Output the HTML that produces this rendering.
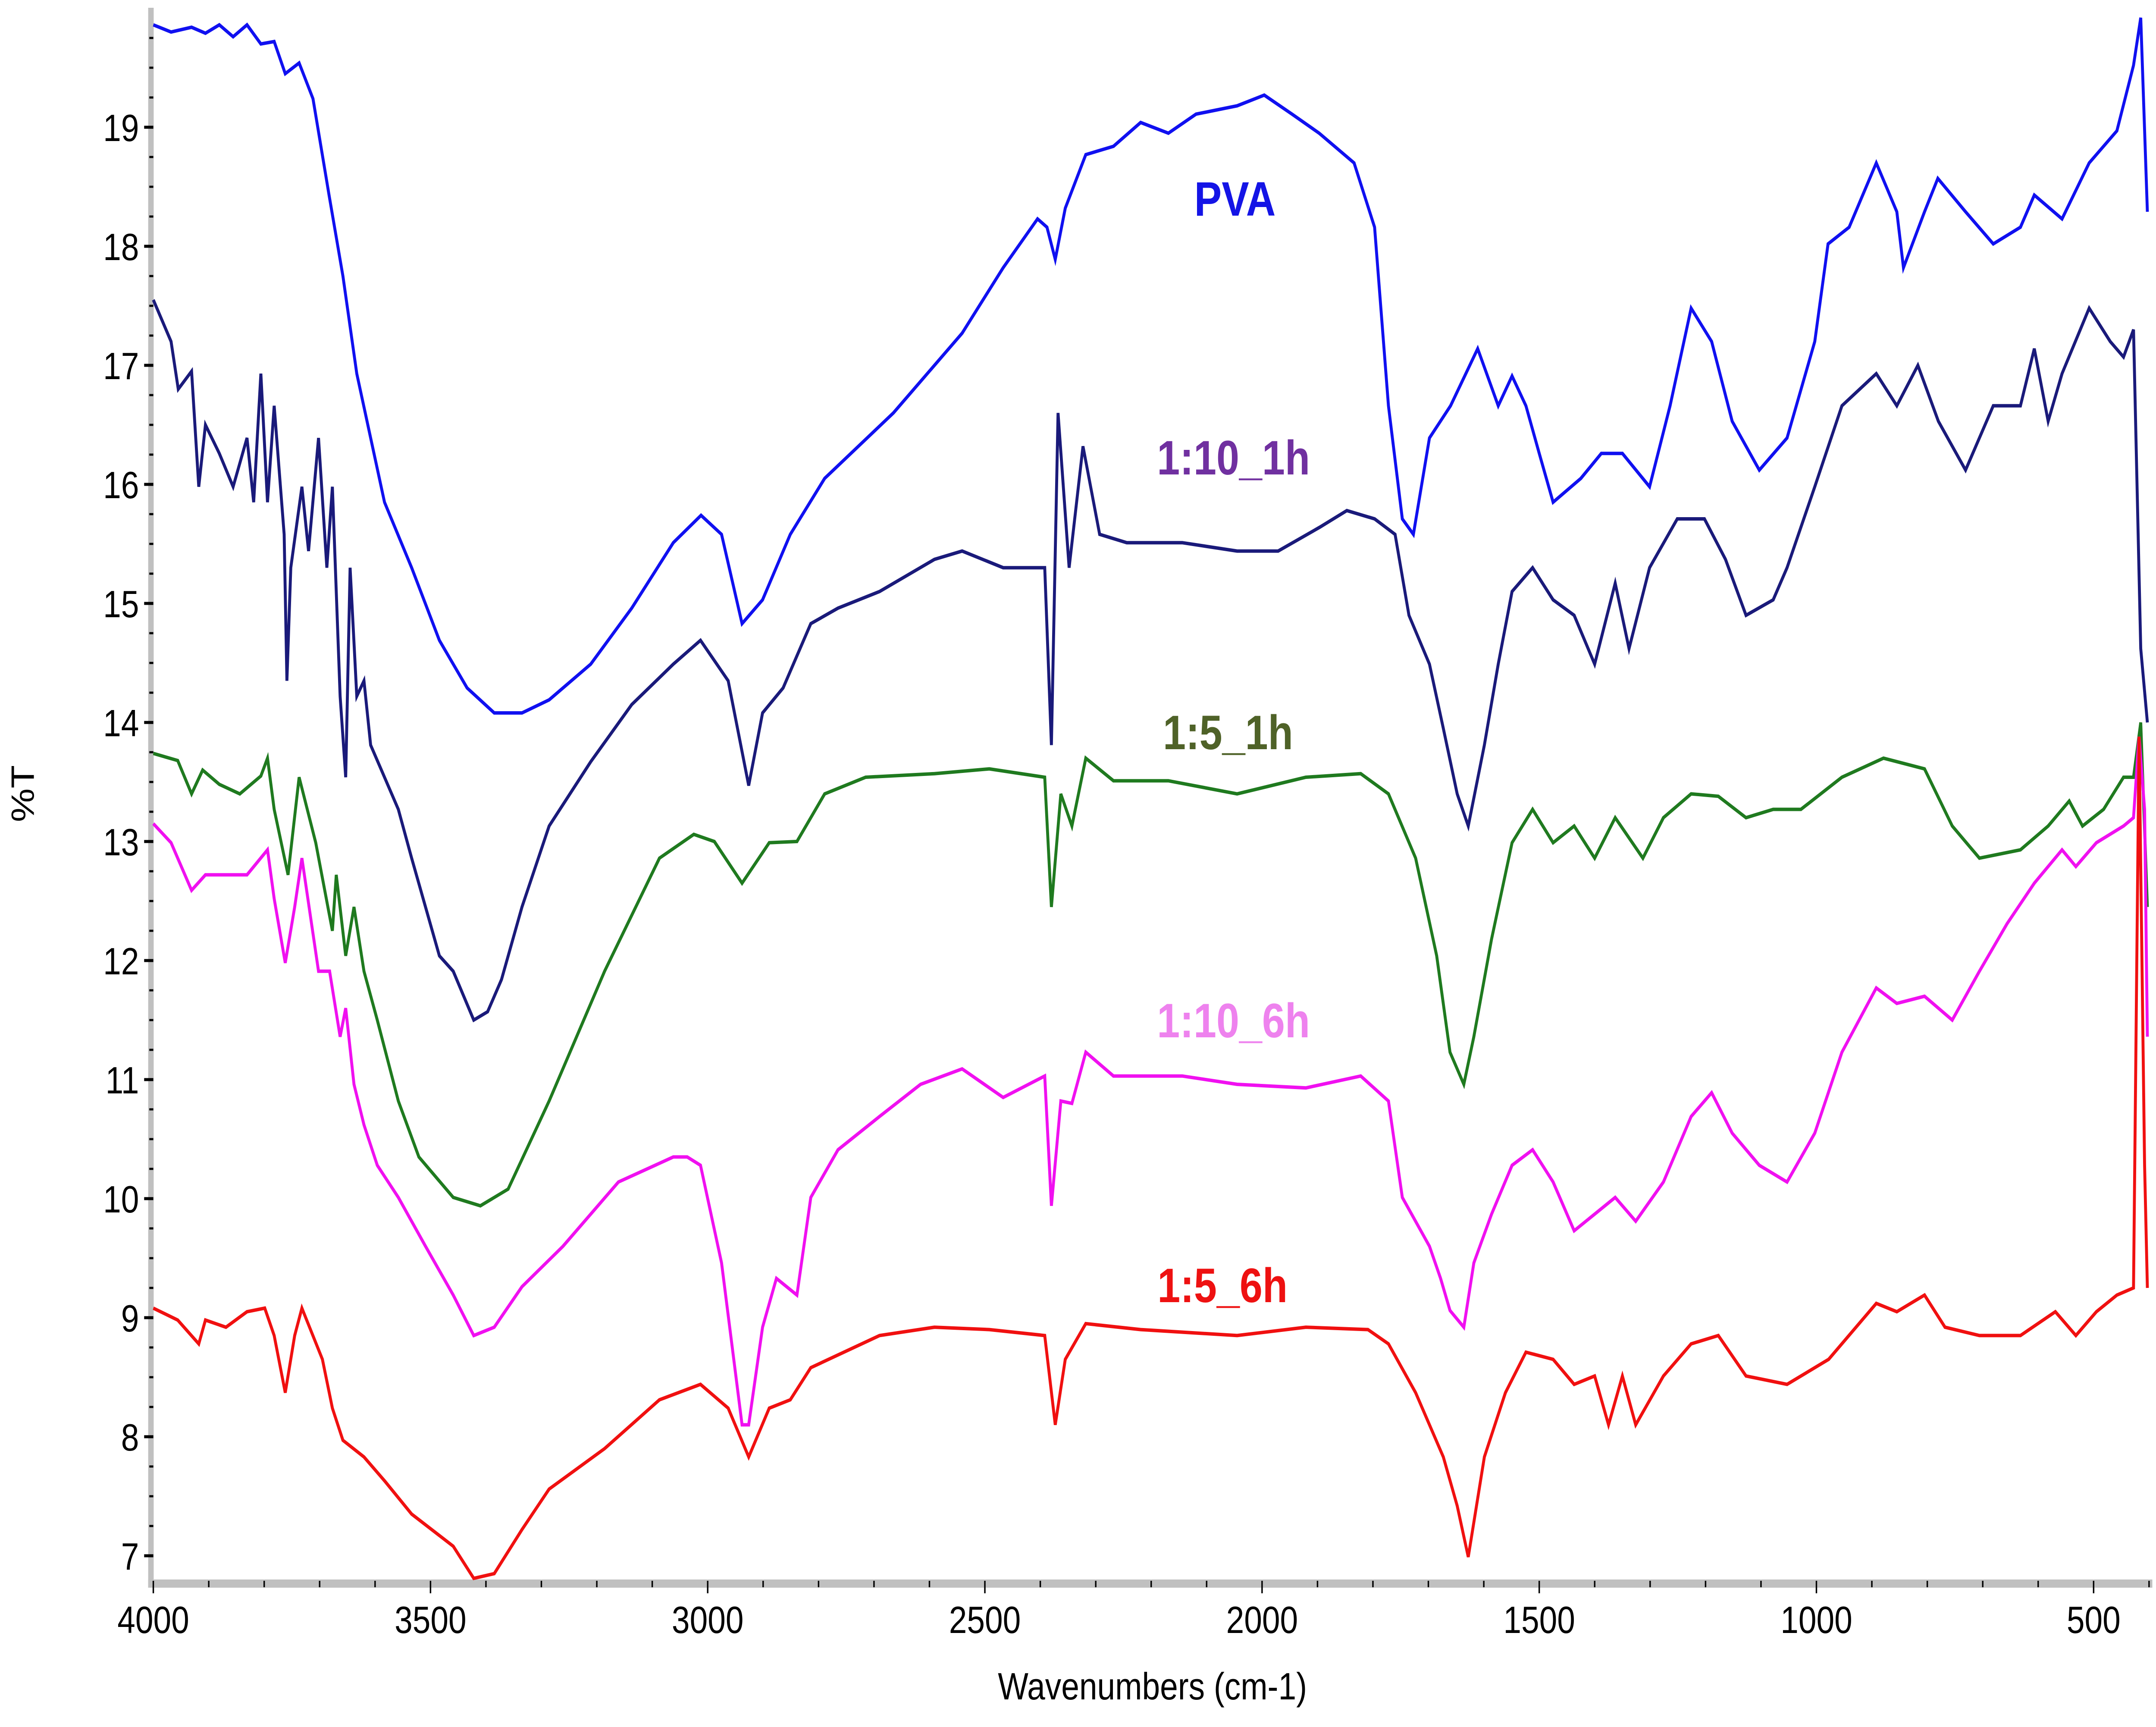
<!DOCTYPE html>
<html><head><meta charset="utf-8"><style>
html,body{margin:0;padding:0;background:#fff;overflow:hidden;width:100%;height:100%;}
svg{display:block;font-family:"Liberation Sans",Arial,sans-serif;width:100vw;height:100vh;}
</style></head><body>
<svg id="chart" viewBox="0 0 5878 4004" preserveAspectRatio="none" xmlns="http://www.w3.org/2000/svg">
<rect x="0" y="0" width="5878" height="4004" fill="#fff"/>
<g id="axes"></g>
<g id="series"></g>
<text x="3142" y="3940" font-size="88" text-anchor="middle">Wavenumbers (cm-1)</text>
<text x="0" y="0" font-size="88" text-anchor="middle" transform="translate(92,1840) rotate(-90)">%T</text>
<text x="3367" y="500" font-size="112" font-weight="bold" fill="#1414e6" text-anchor="middle">PVA</text>
<text x="3363" y="1100" font-size="112" font-weight="bold" fill="#7030a0" text-anchor="middle">1:10_1h</text>
<text x="3348" y="1737" font-size="112" font-weight="bold" fill="#4f6228" text-anchor="middle">1:5_1h</text>
<text x="3363" y="2405" font-size="112" font-weight="bold" fill="#ee82ee" text-anchor="middle">1:10_6h</text>
<text x="3333" y="3019" font-size="112" font-weight="bold" fill="#ee1111" text-anchor="middle">1:5_6h</text>
</svg>
<script>
const xTicks=[4000,3500,3000,2500,2000,1500,1000,500];
const yTicks=[7,8,9,10,11,12,13,14,15,16,17,18,19];
const pvaW=[4000,3968,3931,3906,3881,3856,3831,3806,3782,3762,3737,3712,3683,3658,3633,3608,3583,3534,3484,3434,3385,3335,3286,3211,3137,3062,3012,2975,2938,2901,2851,2789,2665,2541,2467,2405,2388,2373,2355,2318,2268,2219,2169,2119,2045,1996,1946,1897,1834,1797,1772,1747,1727,1698,1660,1611,1574,1549,1524,1500,1475,1425,1388,1350,1301,1264,1226,1189,1152,1103,1053,1003,979,941,892,855,843,805,781,731,681,632,607,557,508,458,428,415,403];
const pvaV=[19.86,19.8,19.84,19.79,19.86,19.76,19.86,19.7,19.72,19.45,19.54,19.24,18.43,17.75,16.93,16.39,15.85,15.30,14.69,14.29,14.08,14.08,14.19,14.49,14.96,15.51,15.74,15.58,14.83,15.03,15.58,16.05,16.60,17.27,17.82,18.23,18.16,17.89,18.32,18.77,18.84,19.04,18.95,19.11,19.18,19.27,19.11,18.95,18.70,18.16,16.66,15.71,15.58,16.39,16.66,17.14,16.66,16.91,16.66,16.26,15.85,16.05,16.26,16.26,15.98,16.66,17.48,17.20,16.53,16.12,16.39,17.20,18.02,18.16,18.70,18.29,17.82,18.29,18.57,18.29,18.02,18.16,18.43,18.23,18.70,18.97,19.52,19.92,18.29];
const s110W=[4000,3968,3955,3931,3918,3906,3881,3856,3831,3819,3806,3794,3782,3764,3759,3752,3732,3720,3702,3687,3677,3663,3653,3645,3633,3620,3608,3583,3558,3534,3509,3484,3459,3422,3397,3372,3335,3286,3211,3137,3062,3013,2963,2926,2901,2864,2814,2765,2690,2591,2541,2467,2392,2380,2368,2348,2323,2293,2244,2144,2045,1971,1896,1847,1797,1760,1735,1698,1673,1648,1628,1599,1574,1549,1512,1475,1437,1400,1363,1338,1301,1251,1202,1164,1127,1078,1053,1003,954,892,855,817,780,731,681,632,607,582,557,508,470,446,428,415,403];
const s110V=[17.55,17.2,16.8,16.95,15.98,16.5,16.26,15.98,16.39,15.85,16.93,15.85,16.66,15.58,14.35,15.3,15.98,15.44,16.39,15.30,15.98,14.22,13.54,15.30,14.22,14.35,13.81,13.54,13.27,12.86,12.45,12.04,11.91,11.50,11.57,11.84,12.45,13.13,13.67,14.15,14.49,14.69,14.35,13.47,14.08,14.29,14.83,14.96,15.10,15.37,15.44,15.30,15.30,13.81,16.60,15.30,16.32,15.58,15.51,15.51,15.44,15.44,15.64,15.78,15.71,15.58,14.90,14.49,13.95,13.40,13.13,13.81,14.49,15.10,15.30,15.03,14.90,14.49,15.17,14.62,15.30,15.71,15.71,15.37,14.90,15.03,15.30,15.98,16.66,16.93,16.66,17.0,16.53,16.12,16.66,16.66,17.14,16.53,16.93,17.48,17.20,17.07,17.3,14.62,14.0];
const s51W=[4000,3956,3931,3911,3881,3844,3806,3794,3782,3757,3737,3707,3677,3670,3653,3638,3620,3596,3558,3521,3459,3410,3360,3286,3186,3087,3025,2988,2938,2889,2839,2789,2715,2591,2492,2392,2380,2363,2343,2318,2268,2169,2045,1921,1822,1772,1723,1685,1661,1636,1618,1586,1549,1512,1475,1437,1400,1363,1313,1276,1226,1177,1127,1078,1028,954,879,805,755,706,632,582,544,520,482,446,428,415,403];
const s51V=[13.74,13.68,13.40,13.6,13.48,13.40,13.55,13.70,13.27,12.72,13.54,12.99,12.25,12.72,12.04,12.45,11.91,11.50,10.82,10.35,10.01,9.94,10.08,10.82,11.91,12.86,13.06,13.0,12.65,12.99,13.0,13.40,13.54,13.57,13.61,13.54,12.45,13.40,13.13,13.70,13.51,13.51,13.40,13.54,13.57,13.40,12.86,12.04,11.23,10.96,11.36,12.18,12.99,13.27,12.99,13.13,12.86,13.20,12.86,13.20,13.40,13.38,13.20,13.27,13.27,13.54,13.70,13.61,13.13,12.86,12.93,13.13,13.34,13.13,13.27,13.54,13.54,14.0,12.45];
const s106W=[4000,3968,3931,3906,3869,3831,3794,3782,3762,3745,3732,3702,3682,3663,3653,3638,3620,3596,3558,3509,3459,3422,3385,3335,3261,3161,3062,3037,3013,2975,2938,2926,2901,2876,2839,2814,2765,2690,2616,2541,2467,2392,2380,2363,2343,2318,2268,2144,2045,1921,1822,1772,1747,1698,1678,1661,1636,1618,1586,1549,1512,1475,1437,1400,1363,1326,1276,1226,1189,1152,1103,1053,1003,954,892,855,805,755,706,656,607,557,532,495,446,428,418,408,403];
const s106V=[13.15,12.99,12.59,12.72,12.72,12.72,12.93,12.52,11.98,12.45,12.86,11.91,11.91,11.36,11.6,10.96,10.62,10.28,10.01,9.60,9.19,8.85,8.92,9.26,9.60,10.14,10.35,10.35,10.28,9.46,8.10,8.10,8.92,9.33,9.19,10.01,10.41,10.69,10.96,11.09,10.85,11.03,9.94,10.82,10.80,11.23,11.03,11.03,10.96,10.93,11.03,10.82,10.01,9.60,9.33,9.06,8.92,9.46,9.87,10.28,10.41,10.14,9.73,9.87,10.01,9.81,10.14,10.69,10.89,10.55,10.28,10.14,10.55,11.23,11.77,11.64,11.70,11.50,11.91,12.31,12.65,12.93,12.79,12.99,13.13,13.2,13.88,13.27,11.36];
const s56W=[4000,3956,3918,3906,3869,3831,3799,3782,3762,3745,3732,3695,3677,3658,3620,3583,3534,3459,3422,3385,3335,3286,3186,3087,3013,2963,2926,2889,2851,2814,2690,2591,2492,2392,2373,2355,2318,2219,2045,1921,1809,1772,1723,1673,1648,1628,1599,1561,1524,1475,1437,1400,1375,1350,1326,1276,1226,1177,1127,1053,978,892,855,805,768,706,632,569,532,495,458,428,418,408,403];
const s56V=[9.08,8.98,8.78,8.98,8.92,9.05,9.08,8.85,8.37,8.85,9.08,8.65,8.24,7.97,7.83,7.63,7.35,7.08,6.81,6.85,7.22,7.56,7.90,8.31,8.44,8.24,7.83,8.24,8.31,8.58,8.85,8.92,8.90,8.85,8.10,8.65,8.95,8.90,8.85,8.92,8.90,8.78,8.37,7.83,7.42,6.99,7.83,8.37,8.71,8.65,8.44,8.51,8.10,8.51,8.10,8.51,8.78,8.85,8.51,8.44,8.65,9.12,9.05,9.19,8.92,8.85,8.85,9.05,8.85,9.05,9.19,9.25,13.88,10.28,9.25];

const X=w=>418+(4000-w)*1.5114;
const Y=v=>295+(19-v)*276;
const NS="http://www.w3.org/2000/svg";
const axes=document.getElementById('axes');
const sg=document.getElementById('series');
function mk(tag,attrs,parent){const e=document.createElementNS(NS,tag);for(const k in attrs)e.setAttribute(k,attrs[k]);parent.appendChild(e);return e;}

let r=mk('rect',{x:404,y:18,width:15,height:3663,fill:'#c0c0c0'},axes);


r=mk('rect',{x:404,y:3662,width:5464,height:19,fill:'#c0c0c0'},axes);



for(let w=4000;w>=400;w-=100){
  const major=w%500===0;
  const t=mk('line',{x1:X(w),x2:X(w),y1:3665,y2:major?3694:3680,stroke:'#000','stroke-width':4},axes);
  
  
}
xTicks.forEach(w=>{
  const t=mk('text',{x:X(w),y:3786,'font-size':88,'text-anchor':'middle'},axes);
  t.textContent=String(w);
  
  
});
for(let v=6.75;v<=20.01;v+=0.25){
  if(Y(v)<25||Y(v)>3660)continue;
  const major=Math.abs(v-Math.round(v))<0.01;
  const t=mk('line',{x1:major?393:407,x2:418,y1:Y(v),y2:Y(v),stroke:'#000','stroke-width':major?7:5},axes);
  
  
}
yTicks.forEach(v=>{
  const t=mk('text',{x:379,y:Y(v)+32,'font-size':88,'text-anchor':'end'},axes);
  t.textContent=String(v);
  
  
});

function drawSeries(ws,vs,color,name){
  const pts=ws.map((w,i)=>X(w).toFixed(1)+','+Y(vs[i]).toFixed(1)).join(' ');
  const p=mk('polyline',{points:pts,fill:'none',stroke:color,'stroke-width':8,'stroke-linejoin':'miter'},sg);
  
  
}
drawSeries(pvaW,pvaV,'#1010f0','series-pva');
drawSeries(s110W,s110V,'#1a1a7a','series-1-10-1h');
drawSeries(s51W,s51V,'#1f7a1f','series-1-5-1h');
drawSeries(s106W,s106V,'#f010f0','series-1-10-6h');
drawSeries(s56W,s56V,'#f01010','series-1-5-6h');
</script>
</body></html>
